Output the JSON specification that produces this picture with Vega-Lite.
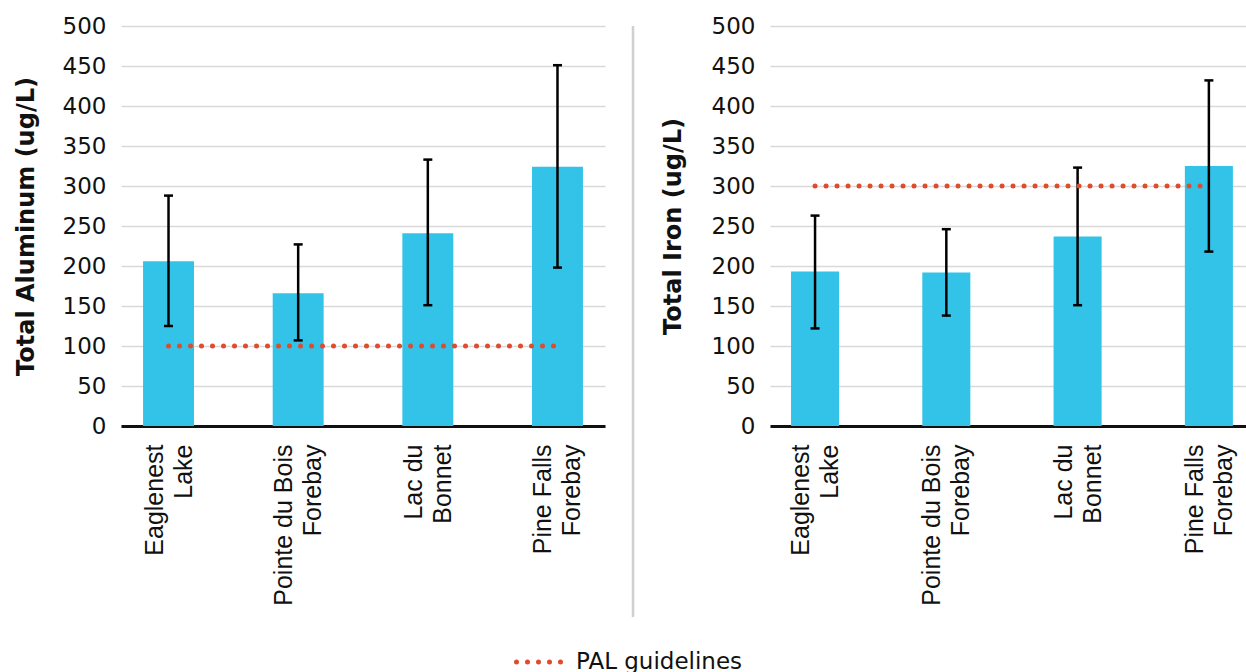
{
  "$schema": "https://vega.github.io/schema/vega-lite/v6.json",
  "background": "white",
  "padding": {"left": 14, "top": 15, "right": 0, "bottom": 0},
  "spacing": 26,
  "datasets": {
    "al": [
      {"site": "Eaglenest|Lake", "mean": 206, "lo": 125, "hi": 288, "pal": 100},
      {"site": "Pointe du Bois|Forebay", "mean": 166, "lo": 107, "hi": 227, "pal": 100},
      {"site": "Lac du|Bonnet", "mean": 241, "lo": 151, "hi": 333, "pal": 100},
      {"site": "Pine Falls|Forebay", "mean": 324, "lo": 198, "hi": 451, "pal": 100}
    ],
    "fe": [
      {"site": "Eaglenest|Lake", "mean": 193, "lo": 122, "hi": 263, "pal": 300},
      {"site": "Pointe du Bois|Forebay", "mean": 192, "lo": 138, "hi": 246, "pal": 300},
      {"site": "Lac du|Bonnet", "mean": 237, "lo": 151, "hi": 323, "pal": 300},
      {"site": "Pine Falls|Forebay", "mean": 325, "lo": 218, "hi": 432, "pal": 300}
    ]
  },
  "config": {
    "view": {"stroke": null},
    "font": "DejaVu Sans",
    "axisX": {
      "title": null,
      "labelAngle": -90,
      "labelFont": "Liberation Sans",
      "labelFontSize": 25,
      "labelLineHeight": 29,
      "labelOffset": -14,
      "labelColor": "#111111",
      "labelPadding": 18,
      "labelExpr": "split(datum.label, '|')",
      "labelLimit": 300,
      "ticks": false,
      "domainColor": "#111111",
      "domainWidth": 3,
      "grid": false
    },
    "axisY": {
      "labelFont": "DejaVu Sans",
      "labelFontSize": 23,
      "labelColor": "#111111",
      "labelPadding": 15,
      "ticks": false,
      "domain": false,
      "grid": true,
      "gridColor": "#d9d9d9",
      "gridWidth": 1.5,
      "titleFont": "DejaVu Sans",
      "titleFontSize": 24,
      "titleFontWeight": "bold",
      "titleColor": "#111111",
      "values": [0, 50, 100, 150, 200, 250, 300, 350, 400, 450, 500]
    },
    "legend": {"padding": 0}
  },
  "resolve": {
    "scale": {"x": "independent", "y": "independent", "color": "shared"},
    "legend": {"color": "shared"}
  },
  "hconcat": [
    {
      "width": 484,
      "height": 400,
      "data": {"name": "al"},
      "encoding": {
        "x": {"field": "site", "type": "nominal", "sort": null,
              "scale": {"paddingInner": 0.607, "paddingOuter": 0.17}}
      },
      "layer": [
        {"mark": {"type": "bar", "color": "#33C3E8"},
         "encoding": {"y": {"field": "mean", "type": "quantitative",
                            "scale": {"domain": [0, 500], "nice": false},
                            "axis": {"title": "Total Aluminum (ug/L)", "titlePadding": 24}}}},
        {"mark": {"type": "rule", "color": "#000000", "strokeWidth": 2.5},
         "encoding": {"y": {"field": "lo", "type": "quantitative"}, "y2": {"field": "hi"}}},
        {"mark": {"type": "tick", "color": "#000000", "thickness": 2.5, "size": 9, "opacity": 1},
         "encoding": {"y": {"field": "lo", "type": "quantitative"}}},
        {"mark": {"type": "tick", "color": "#000000", "thickness": 2.5, "size": 9, "opacity": 1},
         "encoding": {"y": {"field": "hi", "type": "quantitative"}}},
        {"mark": {"type": "line", "strokeDash": [0, 11], "strokeCap": "round", "strokeWidth": 5},
         "encoding": {
           "y": {"field": "pal", "type": "quantitative"},
           "color": {"datum": "PAL guidelines", "type": "nominal",
                     "scale": {"domain": ["PAL guidelines"], "range": ["#E04B2C"]},
                     "legend": {
                       "title": null, "orient": "none", "legendX": 393, "legendY": 611,
                       "symbolType": "stroke", "symbolSize": 2025, "symbolStrokeWidth": 5,
                       "symbolDash": [0, 11], "labelFont": "DejaVu Sans", "labelFontSize": 23,
                       "labelColor": "#111111", "labelOffset": 12, "labelLimit": 400,
                       "encode": {"symbols": {"update": {"strokeCap": {"value": "round"}}}}
                     }}
         }}
      ]
    },
    {
      "width": 1,
      "height": 591,
      "data": {"values": [{"pos": 0}]},
      "mark": {"type": "rule", "color": "#d0d0d0", "strokeWidth": 2.5},
      "encoding": {
        "x": {"field": "pos", "type": "quantitative", "scale": {"domain": [0, 1]}, "axis": null}
      }
    },
    {
      "width": 476,
      "height": 400,
      "data": {"name": "fe"},
      "encoding": {
        "x": {"field": "site", "type": "nominal", "sort": null,
              "scale": {"paddingInner": 0.634, "paddingOuter": 0.13, "align": 0.616}}
      },
      "layer": [
        {"mark": {"type": "bar", "color": "#33C3E8"},
         "encoding": {"y": {"field": "mean", "type": "quantitative",
                            "scale": {"domain": [0, 500], "nice": false},
                            "axis": {"title": "Total Iron (ug/L)", "titlePadding": 26}}}},
        {"mark": {"type": "rule", "color": "#000000", "strokeWidth": 2.5},
         "encoding": {"y": {"field": "lo", "type": "quantitative"}, "y2": {"field": "hi"}}},
        {"mark": {"type": "tick", "color": "#000000", "thickness": 2.5, "size": 9, "opacity": 1},
         "encoding": {"y": {"field": "lo", "type": "quantitative"}}},
        {"mark": {"type": "tick", "color": "#000000", "thickness": 2.5, "size": 9, "opacity": 1},
         "encoding": {"y": {"field": "hi", "type": "quantitative"}}},
        {"mark": {"type": "line", "strokeDash": [0, 11], "strokeCap": "round", "strokeWidth": 5},
         "encoding": {
           "y": {"field": "pal", "type": "quantitative"},
           "color": {"datum": "PAL guidelines", "type": "nominal"}
         }}
      ]
    }
  ]
}
